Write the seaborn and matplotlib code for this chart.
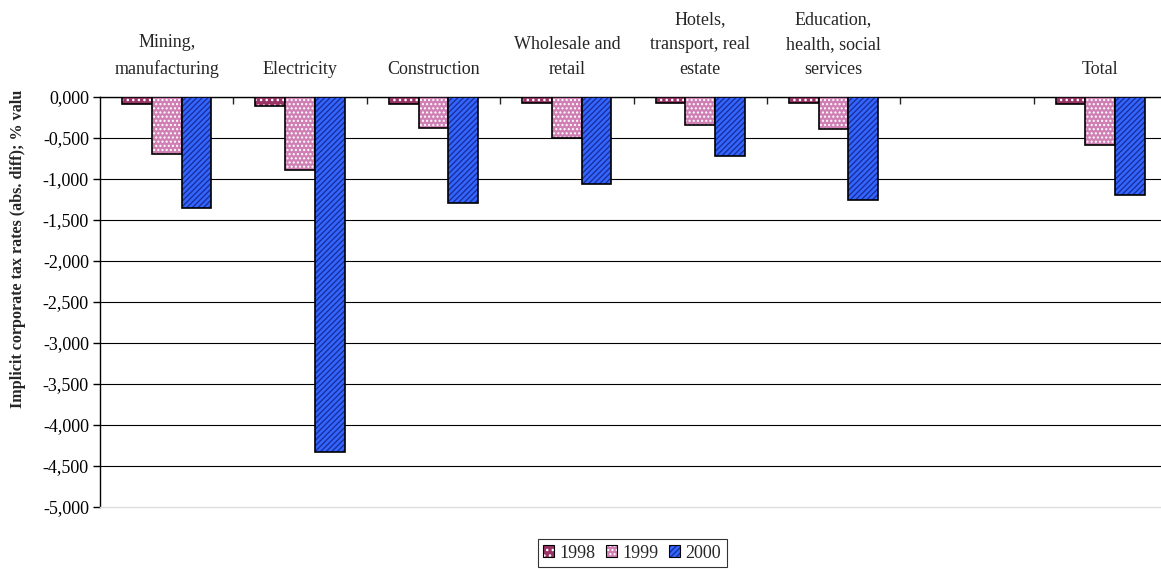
import pandas as pd
import matplotlib
matplotlib.use("Agg")
import matplotlib.pyplot as plt
import matplotlib.colors as mcolors
from matplotlib.patches import Patch
from matplotlib.ticker import FixedLocator, FuncFormatter
import seaborn as sns

# --- data ---
sectors = ["Mining,\nmanufacturing", "Electricity", "Construction", "Wholesale and\nretail",
           "Hotels,\ntransport, real\nestate", "Education,\nhealth, social\nservices", "", "Total"]
years = ["1998", "1999", "2000"]
rate_1998 = [-0.09, -0.11, -0.09, -0.07, -0.07, -0.07, None, -0.09]
rate_1999 = [-0.70, -0.89, -0.38, -0.50, -0.34, -0.39, None, -0.58]
rate_2000 = [-1.35, -4.33, -1.29, -1.06, -0.72, -1.26, None, -1.19]
y_ticks = [-5.0, -4.5, -4.0, -3.5, -3.0, -2.5, -2.0, -1.5, -1.0, -0.5, 0.0]

face_colors = {"1998": "#993366", "1999": "#cf7fb3", "2000": "#3366ff"}
hatches = {"1998": "...", "1999": "....", "2000": "//////"}
hatch_colors = {"1998": "white", "1999": "white", "2000": "#1a2f9c"}

rows = []
for year, vals in zip(years, [rate_1998, rate_1999, rate_2000]):
    for sec, v in zip(sectors, vals):
        if v is not None:
            rows.append({"sector": sec, "year": year, "rate": v})
df = pd.DataFrame(rows)

sns.set_style("white")
plt.rcParams["font.family"] = ["Liberation Serif", "DejaVu Serif"]
plt.rcParams["hatch.linewidth"] = 1.0


def set_hatch_color(p, c):
    if hasattr(p, "set_hatchcolor"):
        p.set_hatchcolor(c)
    else:
        p._hatch_color = mcolors.to_rgba(c)


fig = plt.figure(figsize=(11.61, 5.69), dpi=100)
ax = fig.add_axes([100 / 1161, 62 / 569, 1067 / 1161, 410 / 569])

sns.barplot(data=df, x="sector", y="rate", hue="year", order=sectors, hue_order=years,
            palette=face_colors, saturation=1, width=0.67, errorbar=None, legend=False, ax=ax)

for year, cont in zip(years, ax.containers):
    for p in cont:
        p.set_hatch(hatches[year])
        p.set_edgecolor("black")
        p.set_linewidth(1.2)
        set_hatch_color(p, hatch_colors[year])
        p.set_zorder(3)

ax.set_xlim(-0.5, len(sectors) - 0.5)
ax.set_ylim(-5, 0)

# y axis
ax.yaxis.set_major_locator(FixedLocator(y_ticks))
ax.yaxis.set_major_formatter(FuncFormatter(lambda v, p: f"{v:.3f}".replace(".", ",")))
ax.tick_params(axis="y", which="major", left=True, direction="out", length=5, width=1,
               pad=3, labelsize=13, colors="black")
ax.yaxis.grid(True, color="black", linewidth=0.8)
ax.set_axisbelow(True)
ax.get_ygridlines()[0].set_visible(False)

# x axis on top: ticks between categories, labels centred
ax.xaxis.tick_top()
ax.set_xticks([i + 0.5 for i in range(len(sectors) - 1)])
ax.set_xticklabels([])
ax.set_xticks(range(len(sectors)), minor=True)
ax.set_xticklabels(sectors, minor=True, fontsize=13, linespacing=1.6)
ax.tick_params(axis="x", which="major", top=True, bottom=False, direction="in",
               length=5, width=1, labeltop=False, labelbottom=False)
ax.tick_params(axis="x", which="minor", top=True, bottom=False, length=0, pad=14,
               labeltop=True, labelbottom=False)
ax.set_xlabel("")

for side in ["left", "top"]:
    ax.spines[side].set_color("black")
    ax.spines[side].set_linewidth(1.0)
ax.spines["right"].set_visible(False)
ax.spines["bottom"].set_color("#dddddd")
ax.spines["bottom"].set_linewidth(1.0)

ax.set_ylabel("Implicit corporate tax rates (abs. diff); % valu", fontsize=11.6,
              fontweight="bold")
ax.yaxis.set_label_coords((18 - 100) / 1067, (507 - 249) / 410)
ax.yaxis.label.set_va("center")

# legend
handles = []
for year in years:
    h = Patch(facecolor=face_colors[year], edgecolor="black", hatch=hatches[year],
              linewidth=0.8, label=year)
    set_hatch_color(h, hatch_colors[year])
    handles.append(h)
leg = fig.legend(handles=handles, loc="center", bbox_to_anchor=(632 / 1161, 1 - 553 / 569),
                 ncol=3, fontsize=13, frameon=True, fancybox=False, edgecolor="black",
                 handlelength=0.6, handleheight=0.6, handletextpad=0.3, columnspacing=0.6,
                 borderpad=0.3)
leg.get_frame().set_linewidth(0.8)

fig.savefig("out.png", dpi=100)
